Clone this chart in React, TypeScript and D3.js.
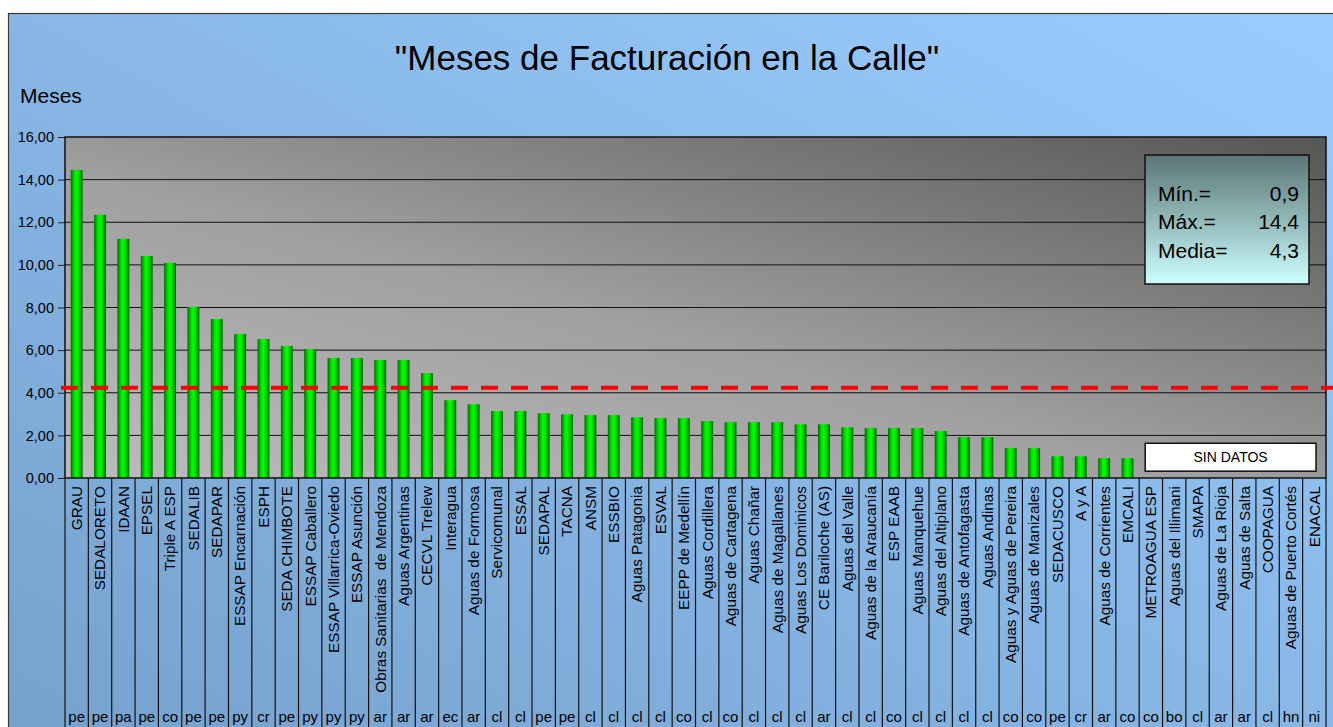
import React, { useRef, useEffect } from 'react'
import * as d3 from 'd3'

const empresas = [
  'GRAU', 'SEDALORETO', 'IDAAN', 'EPSEL', 'Triple A ESP', 'SEDALIB', 'SEDAPAR',
  'ESSAP Encarnación', 'ESPH', 'SEDA CHIMBOTE', 'ESSAP Caballero',
  'ESSAP Villarrica-Oviedo', 'ESSAP Asunción', 'Obras Sanitarias  de Mendoza',
  'Aguas Argentinas', 'CECVL Trelew', 'Interagua', 'Aguas de Formosa',
  'Servicomunal', 'ESSAL', 'SEDAPAL', 'TACNA', 'ANSM', 'ESSBIO',
  'Aguas Patagonia', 'ESVAL', 'EEPP de Medellín', 'Aguas Cordillera',
  'Aguas de Cartagena', 'Aguas Chañar', 'Aguas de Magallanes',
  'Aguas Los Dominicos', 'CE Bariloche (AS)', 'Aguas del Valle',
  'Aguas de la Araucanía', 'ESP EAAB', 'Aguas Manquehue', 'Aguas del Altiplano',
  'Aguas de Antofagasta', 'Aguas Andinas', 'Aguas y Aguas de Pereira',
  'Aguas de Manizales', 'SEDACUSCO', 'A y A', 'Aguas de Corrientes', 'EMCALI',
  'METROAGUA ESP', 'Aguas del Illimani', 'SMAPA', 'Aguas de La Rioja',
  'Aguas de Salta', 'COOPAGUA', 'Aguas de Puerto Cortés', 'ENACAL',
]

const paises = [
  'pe', 'pe', 'pa', 'pe', 'co', 'pe', 'pe', 'py', 'cr', 'pe', 'py', 'py', 'py',
  'ar', 'ar', 'ar', 'ec', 'ar', 'cl', 'cl', 'pe', 'pe', 'cl', 'cl', 'cl', 'cl',
  'co', 'cl', 'co', 'cl', 'cl', 'cl', 'ar', 'cl', 'cl', 'co', 'cl', 'cl', 'cl',
  'cl', 'co', 'co', 'pe', 'cr', 'ar', 'co', 'co', 'bo', 'cl', 'ar', 'ar', 'cl',
  'hn', 'ni',
]

// meses de facturacion en la calle (las ultimas 8 empresas no tienen datos)
const meses = [
  14.45, 12.35, 11.22, 10.42, 10.09, 8.03, 7.46, 6.76, 6.52, 6.19, 6.05, 5.63,
  5.63, 5.54, 5.54, 4.92, 3.65, 3.46, 3.14, 3.14, 3.04, 2.99, 2.95, 2.95, 2.85,
  2.81, 2.81, 2.67, 2.62, 2.62, 2.62, 2.52, 2.52, 2.38, 2.34, 2.34, 2.34, 2.2,
  1.91, 1.91, 1.4, 1.4, 1.02, 1.02, 0.93, 0.93,
]

const yTicks = [0, 2, 4, 6, 8, 10, 12, 14, 16]
const lineaMedia = 4.23
const estadisticas = [
  ['Mín.=', '0,9'],
  ['Máx.=', '14,4'],
  ['Media=', '4,3'],
]

const FONT = '"Liberation Sans", Arial, sans-serif'

export default function App() {
  const ref = useRef<SVGSVGElement>(null)

  useEffect(() => {
    const svg = d3.select(ref.current)
    svg.selectAll('*').remove()

    const W = 1333
    const H = 727
    const plot = { left: 65, right: 1326, top: 137, bottom: 478 }

    const defs = svg.append('defs')
    const grad = (id, x1, y1, x2, y2, stops) => {
      const g = defs
        .append('linearGradient')
        .attr('id', id)
        .attr('x1', x1)
        .attr('y1', y1)
        .attr('x2', x2)
        .attr('y2', y2)
      stops.forEach(([o, c]) => g.append('stop').attr('offset', o).attr('stop-color', c))
    }
    grad('fondo', 0, 1, 1, 0, [[0, '#76a0cc'], [0.5, '#88b7e6'], [1, '#9acdff']])
    grad('area', 0, 1, 1, 0, [[0, '#bcbcbc'], [0.45, '#a0a0a0'], [1, '#565656']])
    grad('barra', 0, 0, 1, 0, [
      [0, '#006a00'], [0.3, '#00e000'], [0.5, '#00ff00'], [0.75, '#00c800'], [1, '#006a00'],
    ])
    grad('caja', 0, 0, 0, 1, [[0, '#5b7676'], [0.5, '#93b8b8'], [1, '#ccffff']])

    // fondo del grafico
    svg.append('rect').attr('x', 0).attr('y', 0).attr('width', W).attr('height', H).attr('fill', '#fff')
    svg
      .append('rect')
      .attr('x', 8.5)
      .attr('y', 13.5)
      .attr('width', W + 20)
      .attr('height', H + 20)
      .attr('fill', 'url(#fondo)')
      .attr('stroke', '#3a3a3a')
      .attr('stroke-width', 1.2)

    svg
      .append('text')
      .attr('x', 667)
      .attr('y', 70)
      .attr('text-anchor', 'middle')
      .attr('font-family', FONT)
      .attr('font-size', 35)
      .text('"Meses de Facturación en la Calle"')

    svg
      .append('text')
      .attr('x', 20)
      .attr('y', 103)
      .attr('font-family', FONT)
      .attr('font-size', 21)
      .text('Meses')

    const x = d3
      .scaleBand()
      .domain(empresas)
      .range([plot.left, plot.right])
      .paddingInner(0.49)
      .paddingOuter(0.245)

    const y = d3.scaleLinear().domain([0, 16]).range([plot.bottom, plot.top])

    svg
      .append('rect')
      .attr('x', plot.left)
      .attr('y', plot.top)
      .attr('width', plot.right - plot.left)
      .attr('height', plot.bottom - plot.top)
      .attr('fill', 'url(#area)')

    svg
      .append('g')
      .selectAll('line')
      .data(yTicks.slice(1, -1))
      .join('line')
      .attr('x1', plot.left)
      .attr('x2', plot.right)
      .attr('y1', (d) => y(d))
      .attr('y2', (d) => y(d))
      .attr('stroke', '#111')
      .attr('stroke-width', 1)

    const locale = d3.formatLocale({ decimal: ',', thousands: '.', grouping: [3], currency: ['', ''] })
    const yAxis = d3.axisLeft(y).tickValues(yTicks).tickFormat(locale.format('.2f')).tickSize(7).tickPadding(4)
    const yAxisGroup = svg.append('g').attr('transform', `translate(${plot.left},0)`).call(yAxis)
    yAxisGroup.select('.domain').remove()
    yAxisGroup.selectAll('line').attr('stroke', '#222')
    yAxisGroup.selectAll('text').attr('font-family', FONT).attr('font-size', 14.5).attr('fill', '#000')

    // barras
    svg
      .append('g')
      .selectAll('rect')
      .data(meses)
      .join('rect')
      .attr('x', (d, i) => x(empresas[i]))
      .attr('y', (d) => y(d))
      .attr('width', x.bandwidth())
      .attr('height', (d) => y(0) - y(d))
      .attr('fill', 'url(#barra)')

    // borde del area de trazado
    svg
      .append('rect')
      .attr('x', plot.left)
      .attr('y', plot.top)
      .attr('width', plot.right - plot.left)
      .attr('height', plot.bottom - plot.top)
      .attr('fill', 'none')
      .attr('stroke', '#111')
      .attr('stroke-width', 1.5)

    // linea de la media
    svg
      .append('line')
      .attr('x1', plot.left - 4)
      .attr('x2', W + 5)
      .attr('y1', y(lineaMedia))
      .attr('y2', y(lineaMedia))
      .attr('stroke', '#ff0000')
      .attr('stroke-width', 4)
      .attr('stroke-dasharray', '17,13')

    // recuadro sin datos
    const sx = x(empresas[meses.length]) - x.step() * x.paddingOuter() + 6
    svg
      .append('rect')
      .attr('x', sx)
      .attr('y', y(1.63))
      .attr('width', plot.right - 10 - sx)
      .attr('height', y(0.32) - y(1.63))
      .attr('fill', '#fff')
      .attr('stroke', '#111')
      .attr('stroke-width', 1.5)
    svg
      .append('text')
      .attr('x', (sx + plot.right - 10) / 2)
      .attr('y', (y(1.63) + y(0.32)) / 2)
      .attr('dy', '0.35em')
      .attr('text-anchor', 'middle')
      .attr('font-family', FONT)
      .attr('font-size', 14)
      .text('SIN DATOS')

    // cuadro de estadisticas
    const caja = svg.append('g').attr('transform', 'translate(1145,155)')
    caja
      .append('rect')
      .attr('width', 164)
      .attr('height', 129)
      .attr('fill', 'url(#caja)')
      .attr('stroke', '#111')
      .attr('stroke-width', 1.5)
    estadisticas.forEach(([k, v], i) => {
      caja
        .append('text')
        .attr('x', 13)
        .attr('y', 46 + i * 28.3)
        .attr('font-family', FONT)
        .attr('font-size', 21)
        .text(k)
      caja
        .append('text')
        .attr('x', 154)
        .attr('y', 46 + i * 28.3)
        .attr('text-anchor', 'end')
        .attr('font-family', FONT)
        .attr('font-size', 21)
        .text(v)
    })

    // eje de categorias (dos niveles: empresa y pais)
    const sep = d3.range(empresas.length + 1).map((i) => plot.left + i * x.step())
    svg
      .append('g')
      .selectAll('line')
      .data(sep)
      .join('line')
      .attr('x1', (d) => d)
      .attr('x2', (d) => d)
      .attr('y1', plot.bottom)
      .attr('y2', H + 5)
      .attr('stroke', '#111')
      .attr('stroke-width', 1.2)

    const cx = (d) => x(d) + x.bandwidth() / 2
    svg
      .append('g')
      .selectAll('text')
      .data(empresas)
      .join('text')
      .attr('transform', (d) => `translate(${cx(d)},486) rotate(-90)`)
      .attr('dy', '0.35em')
      .attr('text-anchor', 'end')
      .attr('font-family', FONT)
      .attr('font-size', 15.3)
      .style('white-space', 'pre')
      .text((d) => d)

    svg
      .append('g')
      .selectAll('text')
      .data(paises)
      .join('text')
      .attr('x', (d, i) => cx(empresas[i]))
      .attr('y', 722)
      .attr('text-anchor', 'middle')
      .attr('font-family', FONT)
      .attr('font-size', 15)
      .text((d) => d)
  }, [])

  return (
    <>
      <style>{'html,body{margin:0;overflow:hidden}'}</style>
      <svg ref={ref} width={1333} height={727} style={{ display: 'block' }}></svg>
    </>
  )
}
